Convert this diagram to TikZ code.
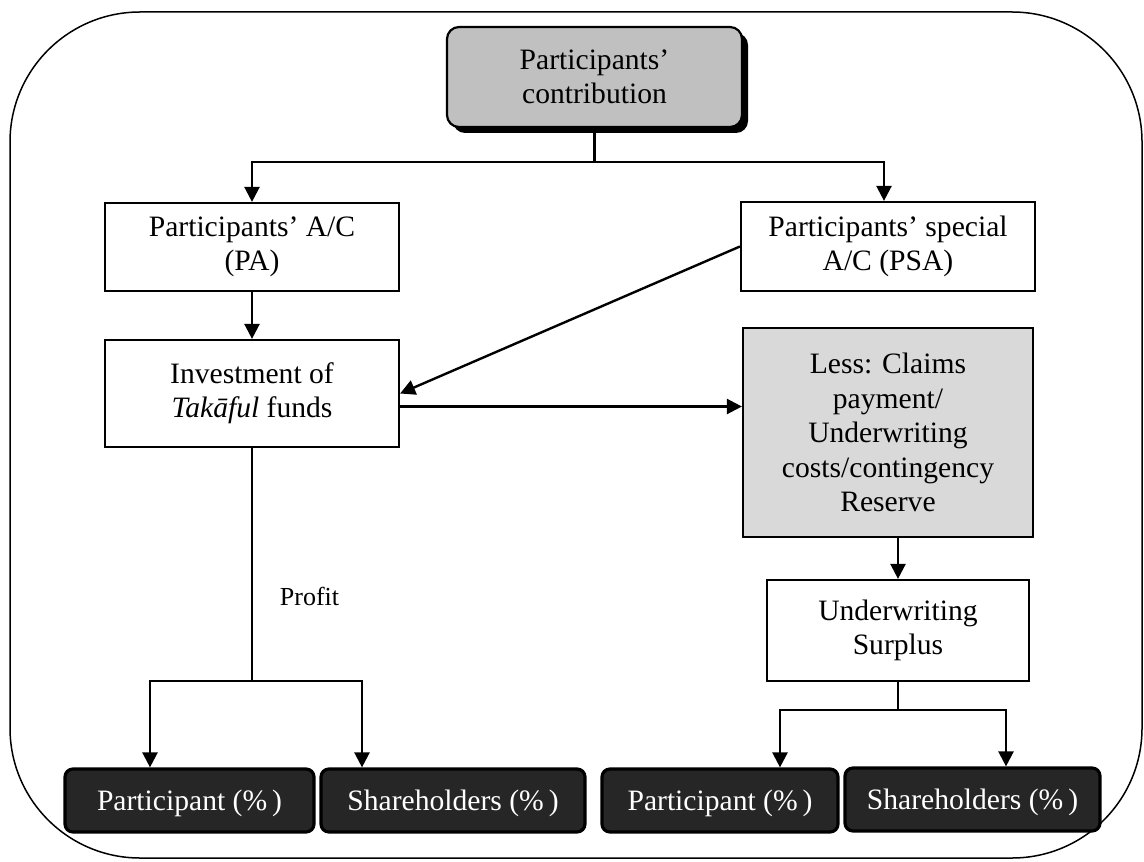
\documentclass[tikz,border=0pt]{standalone}
\usepackage{fontspec}
\setmainfont{Liberation Serif}
\usetikzlibrary{arrows.meta,shadows}

\definecolor{topgray}{HTML}{C0C0C0}
\definecolor{lessgray}{HTML}{D9D9D9}
\definecolor{boxdark}{HTML}{262626}

\begin{document}
\begin{tikzpicture}[x=0.5pt,y=-0.5pt,
    font=\fontsize{14.8}{17.2}\selectfont,
    box/.style={draw,line width=1.1pt,align=center,inner sep=0pt},
    darkbox/.style={draw,line width=1.6pt,rounded corners=4pt,fill=boxdark,
      text=white,minimum height=31.5pt,inner sep=0pt,text depth=-1pt},
    arr/.style={-{Triangle[width=7.5pt,length=7.5pt]},line width=1.2pt}]
      \useasboundingbox (0,0) rectangle (1144,861);
      \draw[line width=0.75pt,rounded corners=65pt] (10,12) rectangle (1142,858);

      % top of the scheme
      \node[box,rounded corners=6pt,fill=topgray,minimum width=147.5pt,minimum height=50pt,
        drop shadow={shadow xshift=3pt,shadow yshift=-3pt,fill=black,opacity=1}]
        (contrib) at (594.5,77) {Participants'\\contribution};
      \node[box,minimum width=147pt,minimum height=44pt]   (pa)  at (252,247)   {Participants' A/C\\(PA)};
      \node[box,minimum width=147pt,minimum height=44.5pt] (psa) at (888,246.5) {Participants' special\\A/C (PSA)};
      \node[box,minimum width=147pt,minimum height=53.5pt] (inv) at (252,393.5) {Investment of\\\textit{Takāful} funds};
      \node[box,fill=lessgray,minimum width=145pt,minimum height=104.5pt] (less) at (888,432.5)
        {Less: Claims\\payment/\\Underwriting\\costs/contingency\\Reserve};
      \node[box,minimum width=131pt,minimum height=50.5pt] (surplus) at (898,630.5) {Underwriting\\Surplus};

      % shares
      \node[darkbox,minimum width=124.5pt] (part1)  at (189.5,800.5) {Participant (\%\,)};
      \node[darkbox,minimum width=132pt]   (share1) at (453,800.5)   {Shareholders (\%\,)};
      \node[darkbox,minimum width=118pt]   (part2)  at (720,800.5)   {Participant (\%\,)};
      \node[darkbox,minimum width=127.5pt] (share2) at (972.5,799.5) {Shareholders (\%\,)};

      \node[font=\fontsize{13}{15}\selectfont,anchor=base] (profit) at (309.5,605) {Profit};

      \coordinate (split1) at (594.5,162);
      \coordinate (split2) at (252,681);
      \coordinate (split3) at (898,710);

      \draw[line width=1.2pt] (contrib.south) -- (split1);
      \draw[arr] (split1) -| (pa.north);
      \draw[arr] (split1) -| ([xshift=-2pt]psa.north);
      \draw[arr] (pa) -- (inv);
      \draw[arr] (psa.west) -- (inv.east);
      \draw[arr] ([yshift=-6.5pt]inv.east) -- ([yshift=-6.5pt]inv.east -| less.west);
      \draw[arr] (less.south -| surplus.north) -- (surplus.north);

      \draw[line width=1.2pt] (inv) -- (split2);
      \draw[arr] (split2) -| ([xshift=-19.75pt]part1.north);
      \draw[arr] (split2) -| ([xshift=-45.5pt]share1.north);

      \draw[line width=1.2pt] (surplus) -- (split3);
      \draw[arr] (split3) -| ([xshift=30pt]part2.north);
      \draw[arr] (split3) -| ([xshift=16.75pt]share2.north);
\end{tikzpicture}
\end{document}
